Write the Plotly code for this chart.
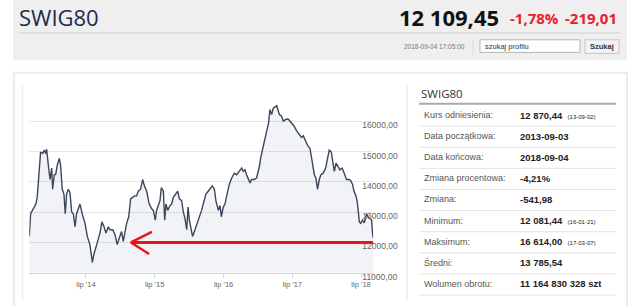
import plotly.graph_objects as go

W, H = 640, 306

# ---------------- data ----------------
dates = [
    "2013-09-03", "2013-09-10", "2013-09-24", "2013-10-08", "2013-10-15", "2013-10-26", "2013-11-02",
    "2013-11-13", "2013-11-22", "2013-11-29", "2013-12-04", "2013-12-13", "2013-12-22", "2013-12-31",
    "2014-01-05", "2014-01-14", "2014-01-21", "2014-01-30", "2014-02-09", "2014-02-16", "2014-02-25",
    "2014-03-06", "2014-03-13", "2014-03-20", "2014-03-29", "2014-04-07", "2014-04-16", "2014-04-25",
    "2014-05-04", "2014-05-12", "2014-05-30", "2014-06-13", "2014-06-26", "2014-07-08", "2014-07-22",
    "2014-08-04", "2014-08-12", "2014-08-27", "2014-09-13", "2014-09-24", "2014-10-05", "2014-10-15",
    "2014-10-28", "2014-11-05", "2014-11-20", "2014-12-02", "2014-12-14", "2014-12-25", "2015-01-06",
    "2015-01-15", "2015-01-24", "2015-02-02", "2015-02-13", "2015-02-23", "2015-03-06", "2015-03-16",
    "2015-03-27", "2015-04-05", "2015-04-17", "2015-04-28", "2015-05-07", "2015-05-19", "2015-06-02",
    "2015-06-15", "2015-06-24", "2015-07-04", "2015-07-11", "2015-07-20", "2015-07-29", "2015-08-05",
    "2015-08-16", "2015-08-23", "2015-08-30", "2015-09-08", "2015-09-20", "2015-09-29", "2015-10-08",
    "2015-10-20", "2015-10-31", "2015-11-09", "2015-11-21", "2015-11-30", "2015-12-09", "2015-12-18",
    "2015-12-25", "2016-01-01", "2016-01-08", "2016-01-18", "2016-01-31", "2016-02-12", "2016-02-26",
    "2016-03-06", "2016-03-15", "2016-03-29", "2016-04-11", "2016-04-20", "2016-05-02", "2016-05-13",
    "2016-05-21", "2016-06-03", "2016-06-12", "2016-06-19", "2016-06-29", "2016-07-08", "2016-07-17",
    "2016-07-31", "2016-08-13", "2016-08-27", "2016-09-08", "2016-09-22", "2016-10-05", "2016-10-14",
    "2016-10-22", "2016-10-31", "2016-11-09", "2016-11-18", "2016-11-27", "2016-12-09", "2016-12-23",
    "2017-01-07", "2017-01-15", "2017-01-28", "2017-02-06", "2017-02-14", "2017-02-25", "2017-03-04",
    "2017-03-13", "2017-03-22", "2017-04-01", "2017-04-09", "2017-04-23", "2017-05-05", "2017-05-14",
    "2017-05-28", "2017-06-10", "2017-06-27", "2017-07-10", "2017-07-24", "2017-08-05", "2017-08-19",
    "2017-08-28", "2017-09-10", "2017-09-20", "2017-10-03", "2017-10-15", "2017-10-26", "2017-11-03",
    "2017-11-12", "2017-11-21", "2017-11-30", "2017-12-12", "2017-12-25", "2018-01-04", "2018-01-13",
    "2018-01-24", "2018-02-03", "2018-02-09", "2018-02-18", "2018-03-02", "2018-03-11", "2018-03-23",
    "2018-04-06", "2018-04-15", "2018-04-28", "2018-05-07", "2018-05-17", "2018-05-24", "2018-06-04",
    "2018-06-11", "2018-06-22", "2018-06-29", "2018-07-09", "2018-07-18", "2018-07-31", "2018-08-07",
    "2018-08-17", "2018-08-26", "2018-08-31", "2018-09-04",
]
values = [
    12200, 12950, 13110, 13270, 13490, 14460, 14990,
    14940, 15050, 14940, 15080, 14560, 14080, 14460,
    13760, 14240, 14250, 14560, 14780, 14560, 13760,
    13600, 12950, 13600, 13760, 13650, 13010, 12950,
    12520, 12950, 13270, 12900, 12630, 12200, 11930,
    11340, 11610, 11930, 12310, 12680, 12520, 12310,
    12520, 12420, 12420, 12260, 11930, 12150, 12360,
    12040, 12420, 12630, 12850, 13440, 13490, 13540,
    13540, 13700, 13760, 14080, 13870, 13700, 13270,
    13110, 13060, 12740, 13060, 13220, 13380, 13810,
    13700, 12740, 13270, 13060, 13220, 13270, 13490,
    13600, 13700, 13440, 13380, 13010, 12790, 12420,
    13170, 12740, 12470, 12200, 12420, 12630, 12900,
    13060, 13270, 13600, 13700, 13760, 13870, 13760,
    13380, 13060, 13220, 12850, 13170, 13270, 13490,
    13920, 14130, 14290, 14240, 14350, 14460, 14350,
    14400, 14240, 14130, 13970, 14080, 14080, 14130,
    14510, 14830, 15210, 15370, 15640, 15960, 16390,
    16230, 16440, 16490, 16520, 16230, 16170, 16010,
    16070, 16070, 15960, 15850, 15690, 15580, 15470,
    15530, 15310, 15210, 15100, 14670, 14240, 14130,
    13760, 14080, 14240, 14290, 14460, 14780, 15050,
    14990, 14670, 14350, 14620, 14510, 14400, 14460,
    14240, 14080, 14080, 14050, 13920, 13700, 13540,
    13330, 12680, 12630, 12740, 12650, 12950, 12850,
    12790, 12740, 12310, 12150,
]

y_tick_vals = [11000, 12000, 13000, 14000, 15000, 16000, 17000]
y_tick_text = ["11000,00", "12000,00", "13000,00", "14000,00", "15000,00", "16000,00", ""]
x_tick_vals = ["2014-07-01", "2015-07-01", "2016-07-01", "2017-07-01", "2018-07-01"]
x_tick_text = ["lip '14", "lip '15", "lip '16", "lip '17", "lip '18"]

# red arrow annotation (data space)
arrow_level = 12000
arrow_tip = "2015-02-25"
arrow_end = "2018-09-04"
arrow_wing_x = ["2015-06-16", "2015-06-01"]
arrow_wing_y = [12350, 11620]

header_title = "SWIG80"
header_price = "12 109,45"
header_pct = "-1,78%"
header_chg = "-219,01"
header_time = "2018-09-04 17:05:00"
search_placeholder = "szukaj profilu"
search_button = "Szukaj"

table_title = "SWIG80"
table_labels = ["Kurs odniesienia:", "Data początkowa:", "Data końcowa:", "Zmiana procentowa:",
                "Zmiana:", "Minimum:", "Maksimum:", "Średni:", "Wolumen obrotu:"]
table_values = ["12 870,44", "2013-09-03", "2018-09-04", "-4,21%", "-541,98",
                "12 081,44", "16 614,00", "13 785,54", "11 164 830 328 szt"]
table_notes = ["(13-09-02)", "", "", "", "", "(16-01-21)", "(17-03-07)", "", ""]

# ---------------- helpers ----------------
def px(x):
    return x / W

def py(y):
    return 1 - y / H

SANS = "Liberation Sans, Arial, sans-serif"
OPEN = "Open Sans, sans-serif"

fig = go.Figure()
fig.add_trace(go.Scatter(
    x=dates, y=values, mode="lines",
    line=dict(color="#3a465b", width=1.4),
    fill="tozeroy", fillcolor="rgba(60,80,120,0.065)",
    hoverinfo="skip", showlegend=False,
))

# red arrow
fig.add_trace(go.Scatter(
    x=[arrow_end, arrow_tip], y=[arrow_level, arrow_level], mode="lines",
    line=dict(color="#e8141c", width=3), hoverinfo="skip", showlegend=False,
))
fig.add_trace(go.Scatter(
    x=[arrow_wing_x[0], arrow_tip, arrow_wing_x[1]],
    y=[arrow_wing_y[0], arrow_level, arrow_wing_y[1]], mode="lines",
    line=dict(color="#e8141c", width=2.5), hoverinfo="skip", showlegend=False,
))

shapes = []
def rect(x0, y0, x1, y1, fill=None, line=None, lw=1):
    shapes.append(dict(type="rect", xref="paper", yref="paper", x0=px(x0), x1=px(x1),
                       y0=py(y1), y1=py(y0), fillcolor=fill or "rgba(0,0,0,0)",
                       line=dict(color=line or "rgba(0,0,0,0)", width=lw if line else 0),
                       layer="below"))

def hline(x0, x1, y, color, w=1, layer="below"):
    shapes.append(dict(type="line", xref="paper", yref="paper", x0=px(x0), x1=px(x1),
                       y0=py(y), y1=py(y), line=dict(color=color, width=w), layer=layer))

def vline(x, y0, y1, color, w=1, layer="below"):
    shapes.append(dict(type="line", xref="paper", yref="paper", x0=px(x), x1=px(x),
                       y0=py(y0), y1=py(y1), line=dict(color=color, width=w), layer=layer))

# header
rect(13, -2, 627, 62, fill="#efefef")
hline(19, 620, 34, "#dadada", 1.5)
vline(473, 40, 56, "#d9d9d9", 1)
rect(480, 41, 580, 54, fill="#ffffff", line="#b5b5b5", lw=1)
rect(585, 41, 619, 55, fill="#f3f3f3", line="#c4c4c4", lw=1)

# main panel
rect(14, 75, 627, 330, line="#ebebeb", lw=2)
vline(22.5, 88, 310, "#eeeeee", 1.5)
vline(407, 88, 310, "#eeeeee", 1.5)

# table lines
hline(419, 616, 107, "#a9a9a9", 2)
row_y0 = 118.5
row_step = 21.75
for i in range(len(table_labels)):
    hline(419, 616, row_y0 + row_step * i + 11.5, "#e4e4e4", 1)

ann = []
def text(x, y, s, size, color, anchor="left", font=SANS, bold=False):
    ann.append(dict(xref="paper", yref="paper", x=px(x), y=py(y), text=(f"<b>{s}</b>" if bold else s),
                    showarrow=False, xanchor=anchor, yanchor="middle",
                    font=dict(size=size, color=color, family=font)))

text(17, 17, header_title, 22, "#1d2c4c", font=OPEN)
text(501, 17, header_price, 22, "#111111", anchor="right", font=OPEN, bold=True)
text(508, 19, header_pct, 15, "#e8202a", font=OPEN, bold=True)
text(563, 19, header_chg, 15, "#e8202a", font=OPEN, bold=True)
text(467, 48, header_time, 6.5, "#777777", anchor="right")
text(483, 47.5, search_placeholder, 7.5, "#333333")
text(602, 48, search_button, 7.5, "#333333", anchor="center", bold=True)

text(419, 96, table_title, 11.5, "#333333", font=OPEN)
for i, (lab, val, note) in enumerate(zip(table_labels, table_values, table_notes)):
    yy = row_y0 + row_step * i
    text(422, yy, lab, 9, "#555555")
    s = f"<b>{val}</b>"
    if note:
        s += f"  <span style='font-size:6px'>{note}</span>"
    ann.append(dict(xref="paper", yref="paper", x=px(518), y=py(yy), text=s, showarrow=False,
                    xanchor="left", yanchor="middle",
                    font=dict(size=9.5, color="#222222", family=SANS)))

plot_top = 93
plot_bot = 281
fig.update_layout(
    width=W, height=H, margin=dict(l=0, r=0, t=0, b=0),
    paper_bgcolor="#ffffff", plot_bgcolor="#ffffff",
    showlegend=False, shapes=shapes, annotations=ann,
    xaxis=dict(
        domain=[px(29.3), px(373.3)], range=[dates[0], dates[-1]], type="date",
        tickvals=x_tick_vals, ticktext=x_tick_text, showgrid=False,
        showline=True, linecolor="#ccd6eb", linewidth=1,
        ticks="outside", ticklen=4, tickcolor="#ccd6eb",
        tickfont=dict(size=7.5, color="#666666", family=SANS), zeroline=False,
    ),
    yaxis=dict(
        domain=[py(plot_bot), py(plot_top)], range=[11000, 17030],
        tickvals=y_tick_vals, ticktext=y_tick_text, side="right",
        showgrid=True, gridcolor="#e6e6e6", gridwidth=1, zeroline=False,
        ticks="", tickfont=dict(size=8.5, color="#666666", family=SANS),
        ticklabelstandoff=-12, ticklabelshift=4,
    ),
)

fig.write_html("out.html")
